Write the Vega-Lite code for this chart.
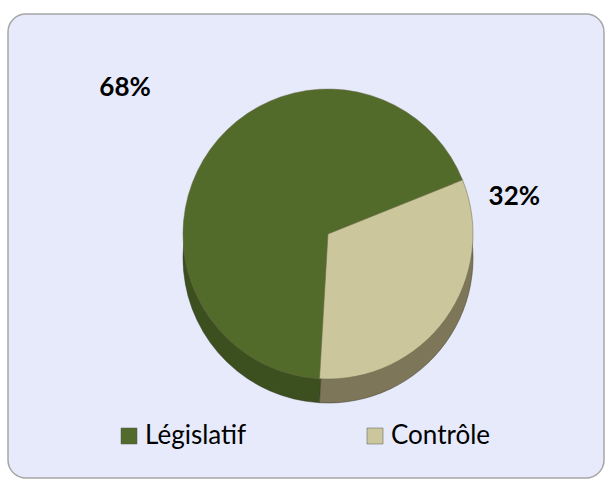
{
  "$schema": "https://vega.github.io/schema/vega-lite/v6.json",
  "width": 608,
  "height": 482,
  "autosize": {"type": "fit", "contains": "padding"},
  "padding": {"left": 8, "top": 14, "right": 4, "bottom": 4},
  "background": "white",
  "view": {"fill": "#e6eafa", "stroke": "#a6a6a6", "strokeWidth": 1.5, "cornerRadius": 18},
  "config": {
    "view": {"fill": "#e6eafa", "stroke": "#a6a6a6", "strokeWidth": 1.5, "cornerRadius": 18},
    "font": "Lato"
  },
  "data": {
    "values": [
      {"categorie": "Législatif", "part": 68, "label": "68%"},
      {"categorie": "Contrôle", "part": 32, "label": "32%"}
    ]
  },
  "encoding": {
    "theta": {"field": "part", "type": "quantitative", "stack": true, "scale": {"range": [3.2, 9.4832]}},
    "order": {"field": "part", "type": "quantitative", "sort": "descending"}
  },
  "layer": [
    {
      "mark": {"type": "arc", "outerRadius": 145, "xOffset": 22, "yOffset": 12, "stroke": "#3a3a2a", "strokeWidth": 0.5},
      "encoding": {
        "color": {
          "field": "categorie", "type": "nominal",
          "scale": {"domain": ["Législatif", "Contrôle"], "range": ["#3b4f1f", "#7d7658"]},
          "legend": null
        }
      }
    },
    {
      "mark": {"type": "arc", "outerRadius": 145, "xOffset": 22, "yOffset": -12, "stroke": "#6b6b4a", "strokeWidth": 0.5},
      "encoding": {
        "color": {
          "field": "categorie", "type": "nominal",
          "scale": {"domain": ["Législatif", "Contrôle"], "range": ["#536b2a", "#cbc69c"]},
          "legend": {
            "title": null,
            "orient": "none",
            "legendX": 108,
            "legendY": 409,
            "direction": "horizontal",
            "columns": 2,
            "columnPadding": 115,
            "symbolType": "square",
            "symbolSize": 256,
            "symbolStrokeColor": "#555555",
            "symbolStrokeWidth": 0.5,
            "labelFontSize": 26,
            "labelFont": "Lato",
            "labelColor": "#000000",
            "labelOffset": 3
          }
        }
      }
    },
    {
      "mark": {"type": "text", "radius": 250, "xOffset": 22, "yOffset": -12, "font": "Lato", "fontWeight": "bold", "fontSize": 26, "color": "#000000"},
      "encoding": {
        "text": {"condition": {"test": "datum.categorie === 'Législatif'", "field": "label"}, "value": ""}
      }
    },
    {
      "mark": {"type": "text", "radius": 190, "thetaOffset": -0.82, "xOffset": 22, "yOffset": -12, "font": "Lato", "fontWeight": "bold", "fontSize": 26, "color": "#000000"},
      "encoding": {
        "text": {"condition": {"test": "datum.categorie === 'Contrôle'", "field": "label"}, "value": ""}
      }
    }
  ],
  "resolve": {"scale": {"color": "independent"}}
}
